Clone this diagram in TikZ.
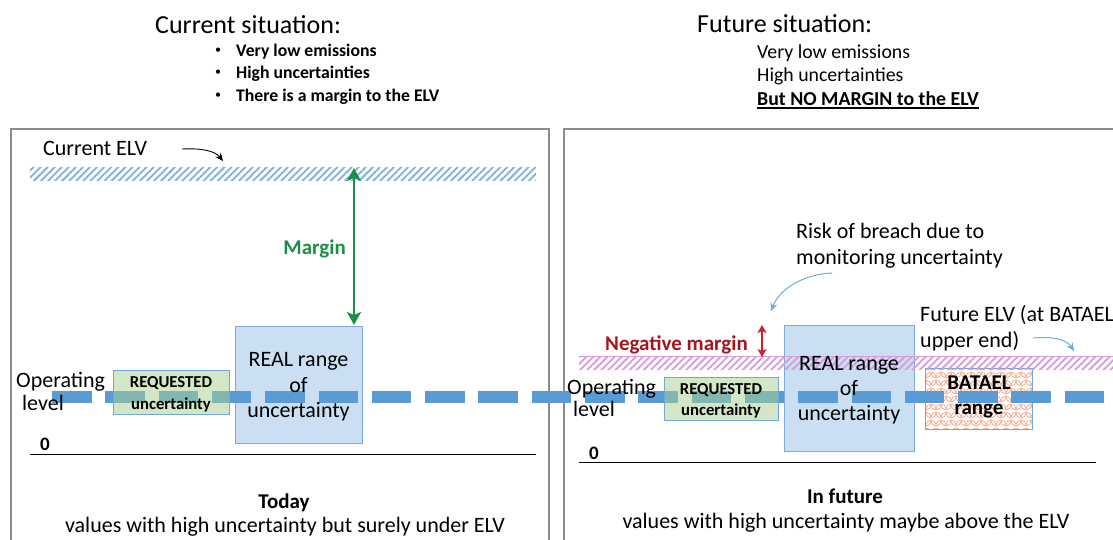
\documentclass[tikz,border=0pt]{standalone}
\usepackage{fontspec}
\setmainfont{Carlito}
\usetikzlibrary{arrows.meta,patterns.meta}
\definecolor{opblue}{HTML}{5B9BD5}
\definecolor{realfill}{HTML}{CADFF2}
\definecolor{realedge}{HTML}{7FAAD8}
\definecolor{reqfill}{HTML}{A9D18E}
\definecolor{reqedge}{HTML}{6FA8DC}
\definecolor{elvblue}{HTML}{7FB0E0}
\definecolor{elvpink}{HTML}{D89AD8}
\definecolor{margingreen}{HTML}{1B8F45}
\definecolor{negred}{HTML}{A8141E}
\definecolor{arrred}{HTML}{D02030}
\definecolor{batorange}{HTML}{F5A27E}
\definecolor{panelgray}{HTML}{8C8C8C}
\definecolor{curvblue}{HTML}{6FAAE0}
\begin{document}
\begin{tikzpicture}[x=1pt,y=-1pt,
  txt/.style={inner sep=0pt, font=\fontsize{22}{26}\selectfont, text height=14pt, text depth=0pt},
  txtb/.style={txt, font=\fontsize{21}{25}\selectfont\bfseries},
  title/.style={inner sep=0pt, font=\fontsize{26}{30}\selectfont, text height=17pt, text depth=0pt},
  item/.style={inner sep=0pt, font=\fontsize{17.7}{20}\selectfont\bfseries, text height=11.5pt, text depth=0pt},
  itemr/.style={inner sep=0pt, font=\fontsize{19.8}{23}\selectfont, text height=12.8pt, text depth=0pt},
  small/.style={inner sep=0pt, font=\fontsize{16.7}{19}\selectfont\bfseries, text height=10.8pt, text depth=0pt},
  panel/.style={draw=panelgray, line width=1.2pt},
  realbox/.style={draw=realedge, line width=1pt, fill=realfill, inner sep=0pt},
  reqbox/.style={draw=reqedge, line width=1pt, fill=reqfill, fill opacity=.5, inner sep=0pt},
  elvband/.style={inner sep=0pt, pattern={Lines[angle=45,distance=5pt,line width=1.8pt]}},
  oplevel/.style={opblue, line width=12pt, dash pattern=on 39.5pt off 13.8pt},
  axisline/.style={black, line width=1pt},
  curvarrow/.style={line width=1pt, -{Stealth[length=8pt,width=7pt,inset=2.5pt]}},
  scalearc/.style={batorange, line width=.7pt},
]
\useasboundingbox (0,0) rectangle (1113,540);
\clip (0,0) rectangle (1113,540);
\fill[white] (0,0) rectangle (1113,540);

% ---------- headings ----------
\node[title, anchor=west] (curtitle) at (155,25) {Current situation:};
\node[item, anchor=west] (b1) at (236,51) {Very low emissions};
\node[item, anchor=west] (b2) at (236,73) {High uncertainties};
\node[item, anchor=west] (b3) at (236,96) {There is a margin to the ELV};
\foreach \yy/\nm in {51/d1,73/d2,96/d3}
  \node[inner sep=0pt, font=\fontsize{12}{14}\selectfont] (\nm) at (218,\yy) {\textbullet};

\node[title, anchor=west] (futtitle) at (697,24) {Future situation:};
\node[itemr, anchor=west] (f1) at (757,52) {Very low emissions};
\node[itemr, anchor=west] (f2) at (757,75) {High uncertainties};
\node[itemr, anchor=west, font=\fontsize{19.8}{23}\selectfont\bfseries] (f3) at (757,99) {But NO MARGIN to the ELV};
\draw[line width=1.2pt] ([yshift=-2.5pt]f3.south west) -- ([yshift=-2.5pt]f3.south east);

% ---------- panels ----------
\draw[panel] (11,560) -- (11,129) -- (549,129) -- (549,560);
\draw[panel] (564,560) -- (564,129) -- (1130,129);

% ---------- left panel: today ----------
\node[elvband, pattern color=elvblue, minimum width=506pt, minimum height=13pt] (elvL) at (283,174.5) {};
\node[txt, anchor=west] (celv) at (43,149) {Current ELV};
\coordinate (ca1) at (182,149);
\coordinate (ca2) at (223,161);
\draw[curvarrow, black, line width=.9pt] (ca1) .. controls (202,148) and (215,151) .. (ca2);

\node[realbox, minimum width=127pt, minimum height=117pt] (realL) at (298.5,384.5) {};

\coordinate (mTop) at (354,168);
\coordinate (mBot) at (354,325);
\draw[margingreen, line width=2.6pt, {Stealth[length=13pt,width=14pt,inset=3pt]}-{Stealth[length=13pt,width=14pt,inset=3pt]}] (mTop) -- (mBot);
\node[txtb, anchor=east, text=margingreen] (mlab) at (346,247) {Margin};

% ---------- right panel: future ----------
\node[realbox, minimum width=130pt, minimum height=126pt] (realR) at (849,388) {};

% BATAEL range with a scale pattern
\node[inner sep=0pt, minimum width=106pt, minimum height=60pt, fill=white] (bat) at (979,399) {};
\begin{scope}
  \clip (bat.south west) rectangle (bat.north east);
  \foreach \j in {0,...,8} {
    \foreach \i in {-1,...,11} {
      \draw[scalearc] ({926+\i*10+mod(\j,2)*5},{365+\j*8}) arc[start angle=180,end angle=0,radius=5];
      \draw[scalearc] ({931+\i*10+mod(\j,2)*5},{369+\j*8}) arc[start angle=180,end angle=360,radius=5];
    }
  }
\end{scope}
\draw[reqedge, line width=.8pt] (bat.south west) rectangle (bat.north east);

% Future ELV band
\node[elvband, pattern color=elvpink, minimum width=540pt, minimum height=12pt] (elvR) at (849,363) {};
\draw[elvpink, line width=1pt] (elvR.north west) -- (elvR.north east);

% ---------- operating level line, across both panels ----------
\coordinate (op1) at (52,397);
\coordinate (op2) at (1113,397);
\draw[oplevel] (op1) -- (op2);

% requested uncertainty boxes (translucent over the line)
\node[reqbox, minimum width=116pt, minimum height=44pt] (reqL) at (171,392) {};
\node[reqbox, minimum width=114pt, minimum height=43pt] (reqR) at (721,398.5) {};

% ---------- texts in boxes ----------
\node[txt] (rl1) at (298.5,359) {REAL range};
\node[txt] (rl2) at (298.5,385) {of};
\node[txt] (rl3) at (298.5,410) {uncertainty};
\node[small] (ql1) at (171,382) {REQUESTED};
\node[small] (ql2) at (171,404) {uncertainty};

\node[txt] (rr1) at (849,363) {REAL range};
\node[txt] (rr2) at (849,388) {of};
\node[txt] (rr3) at (849,413) {uncertainty};
\node[small] (qr1) at (721,389) {REQUESTED};
\node[small] (qr2) at (721,410) {uncertainty};
\node[txtb] (bt1) at (979,382) {BATAEL};
\node[txtb] (bt2) at (979,407) {range};

\node[txt, anchor=west] (opL1) at (16,380) {Operating};
\node[txt, anchor=west] (opL2) at (22,403) {level};
\node[txt, anchor=west] (opR1) at (567,387) {Operating};
\node[txt, anchor=west] (opR2) at (573,409) {level};

% ---------- risk annotations ----------
\node[txt, anchor=west] (risk1) at (796,231) {Risk of breach due to};
\node[txt, anchor=west] (risk2) at (796,257) {monitoring uncertainty};
\coordinate (ra1) at (832,273);
\coordinate (ra2) at (771,311);
\draw[curvarrow, curvblue] (ra1) .. controls (805,274) and (780,288) .. (ra2);

\node[txtb, anchor=west, text=negred] (neg) at (605,343) {Negative margin};
\coordinate (na1) at (762,325);
\coordinate (na2) at (762,357);
\draw[arrred, line width=2pt, {Stealth[length=8pt,width=9pt,inset=2pt]}-{Stealth[length=8pt,width=9pt,inset=2pt]}] (na1) -- (na2);

\node[txt, anchor=west] (fut1) at (920,314) {Future ELV (at BATAEL};
\node[txt, anchor=west] (fut2) at (920,340) {upper end)};
\coordinate (fa1) at (1033,338);
\coordinate (fa2) at (1074,351);
\draw[curvarrow, curvblue] (fa1) .. controls (1053,336) and (1067,340) .. (fa2);

% ---------- zero axes ----------
\node[txtb, anchor=west, font=\fontsize{19}{21}\selectfont\bfseries] (zL) at (40,443) {0};
\coordinate (axL1) at (30,454);
\coordinate (axL2) at (536,454);
\draw[axisline] (axL1) -- (axL2);
\node[txtb, anchor=west, font=\fontsize{19}{21}\selectfont\bfseries] (zR) at (589,452) {0};
\coordinate (axR1) at (579,462);
\coordinate (axR2) at (1096,462);
\draw[axisline] (axR1) -- (axR2);

% ---------- captions ----------
\node[txtb] (today) at (284,501) {Today};
\node[txt] (todayc) at (285,525) {values with high uncertainty but surely under ELV};
\node[txtb] (infut) at (845,496) {In future};
\node[txt] (infutc) at (846,521) {values with high uncertainty maybe above the ELV};
\end{tikzpicture}
\end{document}
